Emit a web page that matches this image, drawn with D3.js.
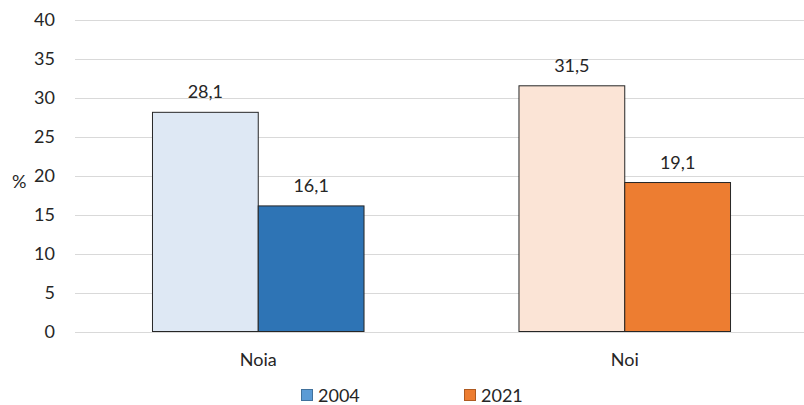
<!DOCTYPE html>
<html><head><meta charset="utf-8">
<script src="https://cdn.jsdelivr.net/npm/d3@7"></script>
<style>body{margin:0;background:#fff}svg{display:block;font-family:Lato,"Open Sans",sans-serif}</style>
</head><body><svg id="c" width="804" height="405"></svg>
<script>
const categories = ["Noia", "Noi"];
const years = ["2004", "2021"];
const values2004 = [28.1, 31.5];
const values2021 = [16.1, 19.1];
const yTicks = [0, 5, 10, 15, 20, 25, 30, 35, 40];
const barFills = [["#DEE8F4", "#2E74B5"], ["#FBE4D6", "#ED7D31"]];
const legendFills = ["#5B9BD5", "#ED7D31"];

const svg = d3.select("#c");
const x = d3.scaleBand().domain(categories).range([75, 808]).paddingInner(0).paddingOuter(0);
const y = d3.scaleLinear().domain([0, 40]).range([331.5, 19.5]);
const xs = d3.scaleBand().domain(years).range([0, x.bandwidth()]).paddingInner(0).paddingOuter(0.7325);

// gridlines
svg.append("g").selectAll("line").data(yTicks).join("line")
  .attr("x1", 75).attr("x2", 804)
  .attr("y1", d => Math.round(y(d)) + 0.5).attr("y2", d => Math.round(y(d)) + 0.5)
  .attr("stroke", "#D9D9D9").attr("stroke-width", 1);

// y axis labels
svg.append("g").selectAll("text").data(yTicks).join("text")
  .attr("x", 55).attr("y", d => y(d)).attr("dy", "0.35em")
  .attr("text-anchor", "end").attr("font-size", 18).attr("fill", "#262626")
  .text(d => d);
svg.append("text").attr("x", 12).attr("y", 188).attr("font-size", 18).attr("fill", "#262626").text("%");

const data = [];
categories.forEach((c, i) => {
  data.push({c, year: years[0], v: values2004[i], fill: barFills[i][0]});
  data.push({c, year: years[1], v: values2021[i], fill: barFills[i][1]});
});

const bars = svg.append("g");
bars.selectAll("rect").data(data).join("rect")
  .attr("x", d => x(d.c) + xs(d.year))
  .attr("y", d => y(d.v))
  .attr("width", xs.bandwidth())
  .attr("height", d => y(0) - y(d.v))
  .attr("fill", d => d.fill)
  .attr("stroke", "#262626").attr("stroke-width", 1);

bars.selectAll("text").data(data).join("text")
  .attr("x", d => x(d.c) + xs(d.year) + xs.bandwidth() / 2)
  .attr("y", d => y(d.v) - 14)
  .attr("text-anchor", "middle").attr("font-size", 18).attr("fill", "#262626")
  .text(d => d3.format(".1f")(d.v).replace(".", ","));

// category labels
svg.append("g").selectAll("text").data(categories).join("text")
  .attr("x", d => x(d) + x.bandwidth() / 2).attr("y", 366)
  .attr("text-anchor", "middle").attr("font-size", 18).attr("fill", "#262626")
  .text(d => d);

// legend
const legendX = [301, 464];
const lg = svg.append("g");
years.forEach((yr, i) => {
  lg.append("rect").attr("x", legendX[i] + 0.5).attr("y", 389.5).attr("width", 11).attr("height", 11)
    .attr("fill", legendFills[i]).attr("stroke", i === 0 ? "#41719C" : "#AE5A21").attr("stroke-width", 1);
  lg.append("text").attr("x", legendX[i] + 17).attr("y", 402).attr("font-size", 18).attr("fill", "#262626").text(yr);
});
</script></body></html>
